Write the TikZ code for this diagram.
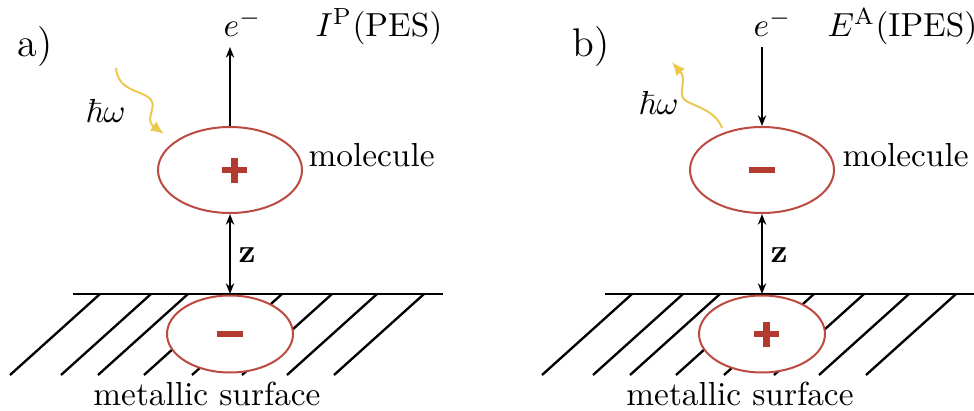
\documentclass[tikz,border=0pt]{standalone}
\usepackage{amsmath,amssymb}
\usepackage{xcolor}
\usepackage{tikz}
\usetikzlibrary{arrows.meta,positioning,shapes.geometric}
\definecolor{charge}{HTML}{B23A2E}
\definecolor{rim}{HTML}{BC4A40}
\definecolor{photon}{HTML}{EBC94F}
\newcommand{\plusmark}{\rlap{\rule[2.75pt]{7.5pt}{2pt}}\hspace{2.75pt}\rule{2pt}{7.5pt}\hspace{2.75pt}}
\newcommand{\minusmark}{\rule{8pt}{2pt}}

\begin{document}
\begin{tikzpicture}[
  x=0.3pt,y=-0.3pt,
  cloud/.style={ellipse,draw=rim,line width=0.6pt,fill=white,inner sep=0pt,minimum width=43.2pt,minimum height=25.8pt},
  mirror/.style={cloud,minimum width=37.8pt,minimum height=23.1pt},
  arr/.style={-{Stealth[length=3.2pt,width=2.5pt]},line width=0.5pt},
  darr/.style={{Stealth[length=3.2pt,width=2.5pt]}-{Stealth[length=3.2pt,width=2.5pt]},line width=0.5pt},
  wave/.style={-{Latex[length=4pt,width=3.4pt]},draw=photon,line width=0.6pt},
  hatch/.style={line width=0.7pt},
  lbl/.style={inner sep=0pt,anchor=base west}
]
\useasboundingbox (0,0) rectangle (974,411);

% a) photoemission
\node[font=\large] (tagA) at (35,47) {a)};
\foreach \x in {10,61,98,144,192,242,287,334} \draw[hatch] (\x,375) -- ++(90,-81);
\draw[hatch] (73,294) -- (443,294);
\node[mirror] (imgA) at (230,334) {\color{charge}\minusmark};
\node[cloud] (molA) at (230,170) {\color{charge}\plusmark};
\coordinate (surfA) at (230,294);
\coordinate (outA) at (230,47);
\draw[arr] (molA) -- (outA);
\draw[darr] (molA) -- (surfA);
\node[lbl] (elecA) at (223,37) {$e^-$};
\node[lbl] (ipA) at (315,37) {$I^{\mathrm{P}}(\mathrm{PES})$};
\node[lbl] (nameA) at (308,167) {molecule};
\node[lbl] (zA) at (238,262) {\textbf{z}};
\node[lbl] (hwA) at (85,123) {$\hbar\omega$};
\node[inner sep=0pt,anchor=base] (metA) at (207,405) {metallic surface};
\coordinate (hvA0) at (116,68);
\coordinate (hvA1) at (164,134);
\draw[wave] (hvA0) .. controls (118,90) and (138,90) .. (148,97) .. controls (160,105) and (144,118) .. (153,126) -- (hvA1);

% b) inverse photoemission
\begin{scope}[xshift=159.6pt]
\node[font=\large] (tagB) at (59,47) {b)};
\foreach \x in {10,61,98,144,192,242,287,334} \draw[hatch] (\x,375) -- ++(90,-81);
\draw[hatch] (73,294) -- (443,294);
\node[mirror] (imgB) at (230,334) {\color{charge}\plusmark};
\node[cloud] (molB) at (230,170) {\color{charge}\minusmark};
\coordinate (surfB) at (230,294);
\coordinate (inB) at (230,47);
\draw[arr] (inB) -- (molB);
\draw[darr] (molB) -- (surfB);
\node[lbl] (elecB) at (221,37) {$e^-$};
\node[lbl] (ipB) at (295,37) {$E^{\mathrm{A}}(\mathrm{IPES})$};
\node[lbl] (nameB) at (310,167) {molecule};
\node[lbl] (zB) at (238,262) {\textbf{z}};
\node[lbl] (hwB) at (106,115) {$\hbar\omega$};
\node[inner sep=0pt,anchor=base] (metB) at (208,405) {metallic surface};
\coordinate (hvB0) at (190,128);
\coordinate (hvB1) at (140,62);
\draw[wave] (hvB0) .. controls (184,112) and (168,108) .. (156,102) .. controls (144,97) and (154,84) .. (150,74) -- (hvB1);
\end{scope}
\end{tikzpicture}
\end{document}
